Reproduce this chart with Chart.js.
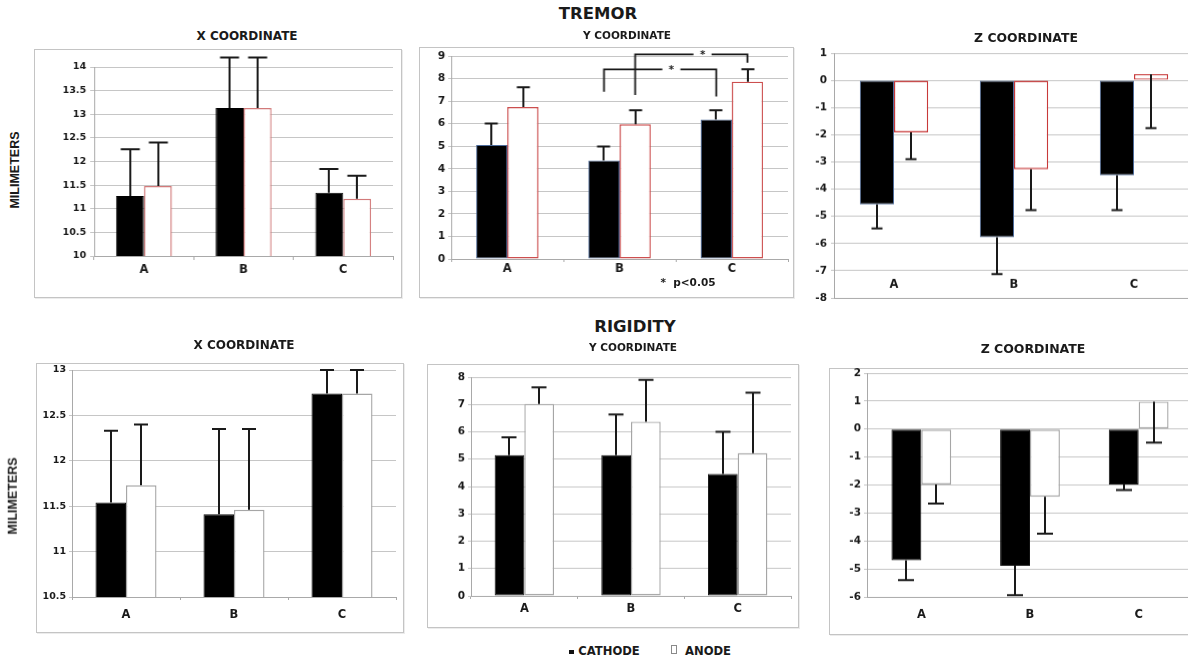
<!DOCTYPE html>
<html>
<head>
<meta charset="utf-8">
<script src="https://cdn.jsdelivr.net/npm/chart.js@4.4.1/dist/chart.umd.min.js"></script>
<style>
  html, body { margin: 0; padding: 0; background: #fff; }
  #fig { position: relative; width: 1188px; height: 659px; overflow: hidden; background: #fff;
         font-family: "DejaVu Sans", sans-serif; font-weight: bold; color: #1a1a1a; }
  .frame { position: absolute; border: 1px solid #c4c4c4; box-sizing: border-box; box-shadow: 1px 1px 0 #ececec; }
  canvas { position: absolute; }
  .t { position: absolute; white-space: pre; line-height: 1; transform: translate(-50%, -50%); }
  .rot { position: absolute; white-space: pre; line-height: 1; font-family: "Liberation Sans", Arial, sans-serif;
         font-size: 12.5px; transform: translate(-50%, -50%) rotate(-90deg); }
  .key { position: absolute; box-sizing: border-box; }
</style>
</head>
<body>
<div id="fig">
  <div class="frame" style="left:34px;top:49px;width:368px;height:249px"></div>
  <div class="frame" style="left:419px;top:47px;width:375px;height:251px"></div>
  <div class="frame" style="left:36px;top:363px;width:368px;height:270px"></div>
  <div class="frame" style="left:427px;top:364px;width:372px;height:264px"></div>
  <div class="frame" style="left:829px;top:368px;width:400px;height:267px"></div>

  <canvas id="tremorX"></canvas>
  <canvas id="tremorY"></canvas>
  <canvas id="tremorZ"></canvas>
  <canvas id="rigidityX"></canvas>
  <canvas id="rigidityY"></canvas>
  <canvas id="rigidityZ"></canvas>

  <div class="t" style="left:598px;top:14px;font-size:16.5px">TREMOR</div>
  <div class="t" style="left:635px;top:327px;font-size:16.5px">RIGIDITY</div>

  <div class="t" style="left:247px;top:36px;font-size:12px">X COORDINATE</div>
  <div class="t" style="left:627px;top:35px;font-size:10.5px">Y COORDINATE</div>
  <div class="t" style="left:1026px;top:38px;font-size:12.4px">Z COORDINATE</div>
  <div class="t" style="left:244px;top:345px;font-size:12px">X COORDINATE</div>
  <div class="t" style="left:633px;top:347px;font-size:10.5px">Y COORDINATE</div>
  <div class="t" style="left:1033px;top:349px;font-size:12.5px">Z COORDINATE</div>

  <div class="rot" style="left:15px;top:170px">MILIMETERS</div>
  <div class="rot" style="left:13px;top:496px">MILIMETERS</div>

  <div class="t" style="left:688px;top:282px;font-size:10.5px">*  p&lt;0.05</div>

  <div class="key" style="left:569px;top:650px;width:5px;height:4px;background:#111"></div>
  <div class="t" style="left:609px;top:652px;font-size:11.6px">CATHODE</div>
  <div class="key" style="left:671px;top:645px;width:6px;height:9px;border:1px solid #8a8a8a;background:#fff"></div>
  <div class="t" style="left:708px;top:652px;font-size:11.6px">ANODE</div>
</div>

<script>
// ---- data ---------------------------------------------------------------
const categories = ['A', 'B', 'C'];

// Tremor: bar value and the end of its error bar, per category
const tremorXCathode    = [11.27, 13.13, 11.34];
const tremorXCathodeErr = [12.26, 14.20, 11.84];
const tremorXAnode      = [11.48, 13.13, 11.21];
const tremorXAnodeErr   = [12.40, 14.20, 11.70];
const tremorXTicks      = [10, 10.5, 11, 11.5, 12, 12.5, 13, 13.5, 14];

const tremorYCathode    = [5.05, 4.37, 6.18];
const tremorYCathodeErr = [6.01, 4.99, 6.59];
const tremorYAnode      = [6.74, 5.97, 7.86];
const tremorYAnodeErr   = [7.61, 6.59, 8.41];
const tremorYTicks      = [0, 1, 2, 3, 4, 5, 6, 7, 8, 9];

const tremorZCathode    = [-4.56, -5.77, -3.49];
const tremorZCathodeErr = [-5.45, -7.12, -4.77];
const tremorZAnode      = [-1.91, -3.27, 0.23];
const tremorZAnodeErr   = [-2.90, -4.77, -1.76];
const tremorZTicks      = [-8, -7, -6, -5, -4, -3, -2, -1, 0, 1];

// Significant pairs on tremor Y: [category, series] joined at a level,
// each leg dropping to its own end value (series 0 = cathode, 1 = anode)
const tremorYSignificance = [
  { from: [1, 0], to: [2, 0], level: 8.41, fromEnd: 7.42, toEnd: 7.20 },
  { from: [1, 1], to: [2, 1], level: 9.07, fromEnd: 7.27, toEnd: 8.70 }
];

// Rigidity
const rigidityXCathode    = [11.54, 11.41, 12.74];
const rigidityXCathodeErr = [12.33, 12.35, 13.00];
const rigidityXAnode      = [11.73, 11.46, 12.74];
const rigidityXAnodeErr   = [12.40, 12.35, 13.00];
const rigidityXTicks      = [10.5, 11, 11.5, 12, 12.5, 13];

const rigidityYCathode    = [5.15, 5.15, 4.46];
const rigidityYCathodeErr = [5.80, 6.63, 6.00];
const rigidityYAnode      = [7.02, 6.37, 5.22];
const rigidityYAnodeErr   = [7.62, 7.90, 7.43];
const rigidityYTicks      = [0, 1, 2, 3, 4, 5, 6, 7, 8];

const rigidityZCathode    = [-4.69, -4.89, -1.98];
const rigidityZCathodeErr = [-5.40, -5.94, -2.18];
const rigidityZAnode      = [-1.98, -2.42, 0.98];
const rigidityZAnodeErr   = [-2.66, -3.74, -0.48];
const rigidityZTicks      = [-6, -5, -4, -3, -2, -1, 0, 1, 2];

// ---- drawing ------------------------------------------------------------
Chart.defaults.font.family = '"DejaVu Sans", sans-serif';
Chart.defaults.font.weight = 'bold';
Chart.defaults.color = '#1a1a1a';

const GRID = '#c6c6c6';
const AXIS = '#a9a9a9';
const INK = '#1a1a1a';

// error bars: a stem from the bar's value to the error end, capped there
const errorBars = {
  id: 'errorBars',
  afterDatasetsDraw(chart, args, opts) {
    const ctx = chart.ctx;
    const ys = chart.scales.y;
    chart.data.datasets.forEach((ds, di) => {
      if (!ds.errorEnds) return;
      chart.getDatasetMeta(di).data.forEach((bar, i) => {
        const x = Math.round(bar.x);
        const y0 = ys.getPixelForValue(ds.data[i]);
        const y1 = ys.getPixelForValue(ds.errorEnds[i]);
        ctx.save();
        ctx.strokeStyle = INK;
        ctx.lineWidth = opts.width;
        ctx.beginPath();
        ctx.moveTo(x, y0);
        ctx.lineTo(x, y1);
        ctx.moveTo(x - opts.cap / 2, y1);
        ctx.lineTo(x + opts.cap / 2, y1);
        ctx.stroke();
        ctx.restore();
      });
    });
  }
};

// significance brackets joining two bars, with a star on the bridge
const brackets = {
  id: 'brackets',
  afterDatasetsDraw(chart, args, opts) {
    if (!opts.items || !opts.items.length) return;
    const ctx = chart.ctx;
    const ys = chart.scales.y;
    opts.items.forEach(b => {
      const xa = chart.getDatasetMeta(b.from[1]).data[b.from[0]].x;
      const xb = chart.getDatasetMeta(b.to[1]).data[b.to[0]].x;
      const yl = ys.getPixelForValue(b.level);
      const xs = xa + (xb - xa) * 0.6;
      ctx.save();
      ctx.strokeStyle = INK;
      ctx.lineWidth = 1.8;
      ctx.beginPath();
      ctx.moveTo(xa, ys.getPixelForValue(b.fromEnd));
      ctx.lineTo(xa, yl);
      ctx.lineTo(xs - 9, yl);
      ctx.moveTo(xs + 9, yl);
      ctx.lineTo(xb, yl);
      ctx.lineTo(xb, ys.getPixelForValue(b.toEnd));
      ctx.stroke();
      ctx.fillStyle = INK;
      ctx.font = 'bold 10px "DejaVu Sans"';
      ctx.textAlign = 'center';
      ctx.textBaseline = 'middle';
      ctx.fillText('*', xs, yl + 1);
      ctx.restore();
    });
  }
};

// category names written inside the plot, just above its bottom edge
const innerCategoryLabels = {
  id: 'innerCategoryLabels',
  afterDatasetsDraw(chart, args, opts) {
    if (opts.rise == null) return;
    const ctx = chart.ctx;
    const xs = chart.scales.x;
    const y = chart.chartArea.bottom - opts.rise;
    ctx.save();
    ctx.fillStyle = INK;
    ctx.font = 'bold ' + opts.size + 'px "DejaVu Sans"';
    ctx.textAlign = 'center';
    ctx.textBaseline = 'middle';
    xs.ticks.forEach((t, i) => {
      ctx.fillText(xs.getLabelForValue(t.value), xs.getPixelForTick(i), y);
    });
    ctx.restore();
  }
};

function panel(id, p) {
  const { plot } = p;
  const box = { x: plot.l - 62, y: plot.t - 20, w: plot.r - plot.l + 72, h: plot.b - plot.t + 50 };
  const cv = document.getElementById(id);
  cv.width = box.w; cv.height = box.h;
  cv.style.left = box.x + 'px'; cv.style.top = box.y + 'px';
  cv.style.width = box.w + 'px'; cv.style.height = box.h + 'px';
  const xTick = p.xTickLen;
  const xFont = 11.5;
  const inside = p.labelGap < 0;
  new Chart(cv, {
    type: 'bar',
    data: {
      labels: categories,
      datasets: [
        { label: 'CATHODE', data: p.cathode, errorEnds: p.cathodeErr,
          backgroundColor: '#000', borderColor: p.cathodeEdge, borderWidth: 1, borderSkipped: false },
        { label: 'ANODE', data: p.anode, errorEnds: p.anodeErr,
          backgroundColor: '#fff', borderColor: p.anodeEdge, borderWidth: 1.4, borderSkipped: false }
      ]
    },
    options: {
      responsive: false,
      animation: false,
      events: [],
      layout: { padding: { left: 0, top: plot.t - box.y, right: box.x + box.w - plot.r, bottom: 0 } },
      datasets: { bar: { categoryPercentage: p.pair, barPercentage: 1 } },
      plugins: {
        legend: { display: false },
        tooltip: { enabled: false },
        errorBars: { cap: p.cap, width: 2 },
        brackets: { items: p.brackets || [] },
        innerCategoryLabels: { rise: inside ? -p.labelGap : null, size: xFont }
      },
      scales: {
        x: {
          grid: { display: true, drawOnChartArea: false, drawTicks: xTick > 0, tickLength: xTick, color: AXIS },
          border: { display: true, color: AXIS },
          ticks: { display: !inside, font: { size: xFont, weight: 'bold' }, color: INK,
                   padding: Math.max(0, p.labelGap - xTick - xFont * 0.6), maxRotation: 0 },
          afterFit: s => { s.height = box.y + box.h - plot.b; }
        },
        y: {
          min: p.ticks[0], max: p.ticks[p.ticks.length - 1],
          afterBuildTicks: s => { s.ticks = p.ticks.map(v => ({ value: v })); },
          grid: { color: GRID, tickLength: p.yTickLen, drawTicks: true },
          border: { display: true, color: AXIS },
          ticks: { font: { size: p.yFont, weight: 'bold' }, color: INK, padding: p.yPad,
                   callback: v => String(v) },
          afterFit: s => { s.width = plot.l - box.x; }
        }
      }
    },
    plugins: [errorBars, brackets, innerCategoryLabels]
  });
}

panel('tremorX', {
  plot: { l: 94, r: 392.5, t: 66.7, b: 256 },
  cathode: tremorXCathode, cathodeErr: tremorXCathodeErr, anode: tremorXAnode, anodeErr: tremorXAnodeErr,
  ticks: tremorXTicks, pair: 0.56, cap: 19, cathodeEdge: '#000', anodeEdge: '#d27a7a',
  yFont: 9.5, yPad: 4, yTickLen: 4, xTickLen: 4, labelGap: 14
});
panel('tremorY', {
  plot: { l: 451, r: 787.5, t: 56, b: 259 },
  cathode: tremorYCathode, cathodeErr: tremorYCathodeErr, anode: tremorYAnode, anodeErr: tremorYAnodeErr,
  ticks: tremorYTicks, pair: 0.555, cap: 13, cathodeEdge: '#4d6b9a', anodeEdge: '#cc4f4f',
  yFont: 10.5, yPad: 3, yTickLen: 3, xTickLen: 3, labelGap: 10.5,
  brackets: tremorYSignificance
});
panel('tremorZ', {
  plot: { l: 834, r: 1194, t: 53.3, b: 297.7 },
  cathode: tremorZCathode, cathodeErr: tremorZCathodeErr, anode: tremorZAnode, anodeErr: tremorZAnodeErr,
  ticks: tremorZTicks, pair: 0.57, cap: 11, cathodeEdge: '#4d6b9a', anodeEdge: '#c83a3a',
  yFont: 10.5, yPad: 4, yTickLen: 3, xTickLen: 0, labelGap: -12.7
});
panel('rigidityX', {
  plot: { l: 72, r: 396, t: 370, b: 597.3 },
  cathode: rigidityXCathode, cathodeErr: rigidityXCathodeErr, anode: rigidityXAnode, anodeErr: rigidityXAnodeErr,
  ticks: rigidityXTicks, pair: 0.565, cap: 14, cathodeEdge: '#111', anodeEdge: '#a6a6a6',
  yFont: 9.5, yPad: 3, yTickLen: 3, xTickLen: 3, labelGap: 17.7
});
panel('rigidityY', {
  plot: { l: 471, r: 791, t: 377.3, b: 596 },
  cathode: rigidityYCathode, cathodeErr: rigidityYCathodeErr, anode: rigidityYAnode, anodeErr: rigidityYAnodeErr,
  ticks: rigidityYTicks, pair: 0.557, cap: 15, cathodeEdge: '#111', anodeEdge: '#a6a6a6',
  yFont: 10.5, yPad: 3, yTickLen: 3, xTickLen: 3, labelGap: 13.3
});
panel('rigidityZ', {
  plot: { l: 867, r: 1193, t: 373.3, b: 596.7 },
  cathode: rigidityZCathode, cathodeErr: rigidityZCathodeErr, anode: rigidityZAnode, anodeErr: rigidityZAnodeErr,
  ticks: rigidityZTicks, pair: 0.55, cap: 16, cathodeEdge: '#111', anodeEdge: '#a6a6a6',
  yFont: 10.5, yPad: 3, yTickLen: 3, xTickLen: 0, labelGap: 18.3
});
</script>
</body>
</html>
